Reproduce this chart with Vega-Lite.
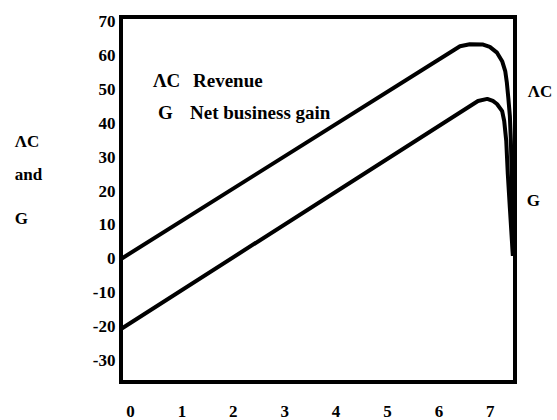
{
  "$schema": "https://vega.github.io/schema/vega-lite/v6.json",
  "autosize": "none",
  "width": 394,
  "height": 365,
  "padding": {"left": 121, "top": 17, "right": 42, "bottom": 38},
  "background": "white",
  "config": {
    "view": {"stroke": "black", "strokeWidth": 4},
    "font": "Liberation Serif"
  },
  "datasets": {
    "curves": [
      {"series": "Revenue", "x": -0.175, "y": 0},
      {"series": "Revenue", "x": 6.42, "y": 62.6},
      {"series": "Revenue", "x": 6.61, "y": 63.2},
      {"series": "Revenue", "x": 6.87, "y": 63.1},
      {"series": "Revenue", "x": 7.00, "y": 62.4},
      {"series": "Revenue", "x": 7.14, "y": 60.7},
      {"series": "Revenue", "x": 7.24, "y": 58.2},
      {"series": "Revenue", "x": 7.30, "y": 55.3},
      {"series": "Revenue", "x": 7.33, "y": 52.1},
      {"series": "Revenue", "x": 7.36, "y": 47.4},
      {"series": "Revenue", "x": 7.39, "y": 42.1},
      {"series": "Revenue", "x": 7.41, "y": 34.7},
      {"series": "Revenue", "x": 7.43, "y": 22.9},
      {"series": "Revenue", "x": 7.45, "y": 0.9},
      {"series": "Net business gain", "x": -0.175, "y": -20.6},
      {"series": "Net business gain", "x": 6.77, "y": 46.5},
      {"series": "Net business gain", "x": 6.95, "y": 47.1},
      {"series": "Net business gain", "x": 7.06, "y": 46.5},
      {"series": "Net business gain", "x": 7.14, "y": 45.6},
      {"series": "Net business gain", "x": 7.24, "y": 43.5},
      {"series": "Net business gain", "x": 7.28, "y": 40.6},
      {"series": "Net business gain", "x": 7.32, "y": 34.7},
      {"series": "Net business gain", "x": 7.35, "y": 25.0},
      {"series": "Net business gain", "x": 7.39, "y": 15.0},
      {"series": "Net business gain", "x": 7.43, "y": 5.3},
      {"series": "Net business gain", "x": 7.45, "y": 0.9}
    ],
    "legend": [
      {"label": "ΛC", "x": 0.447, "y": 52.4},
      {"label": "Revenue", "x": 1.226, "y": 52.4},
      {"label": "G", "x": 0.545, "y": 43.0},
      {"label": "Net business gain", "x": 1.167, "y": 43.0}
    ],
    "labels": [
      {"label": "ΛC", "x": -2.24, "y": 34.4},
      {"label": "and", "x": -2.24, "y": 24.7},
      {"label": "G", "x": -2.24, "y": 11.8},
      {"label": "ΛC", "x": 7.74, "y": 49.1},
      {"label": "G", "x": 7.72, "y": 17.1}
    ]
  },
  "encoding": {
    "x": {
      "field": "x", "type": "quantitative",
      "scale": {"domain": [-0.175, 7.49], "nice": false, "zero": false},
      "axis": {
        "values": [0, 1, 2, 3, 4, 5, 6, 7], "title": null, "grid": false,
        "domain": false, "ticks": false, "labelPadding": 21,
        "labelFont": "Liberation Serif", "labelFontWeight": "bold",
        "labelFontSize": 17, "labelColor": "black", "labelOverlap": false
      }
    },
    "y": {
      "field": "y", "type": "quantitative",
      "scale": {"domain": [-36.2, 71.2], "nice": false, "zero": false},
      "axis": {
        "values": [-30, -20, -10, 0, 10, 20, 30, 40, 50, 60, 70], "title": null,
        "grid": false, "domain": false, "ticks": false, "labelPadding": 6,
        "labelExpr": "'' + datum.value",
        "labelFont": "Liberation Serif", "labelFontWeight": "bold",
        "labelFontSize": 17, "labelColor": "black", "labelOverlap": false
      }
    }
  },
  "layer": [
    {
      "data": {"name": "curves"},
      "mark": {"type": "line", "interpolate": "linear", "strokeWidth": 4, "strokeJoin": "round", "strokeCap": "butt", "color": "black", "clip": false},
      "encoding": {
        "detail": {"field": "series", "type": "nominal"}
      }
    },
    {
      "data": {"name": "legend"},
      "mark": {"type": "text", "align": "left", "baseline": "middle", "font": "Liberation Serif", "fontWeight": "bold", "fontSize": 19, "color": "black"},
      "encoding": {
        "text": {"field": "label"}
      }
    },
    {
      "data": {"name": "labels"},
      "mark": {"type": "text", "align": "left", "baseline": "middle", "font": "Liberation Serif", "fontWeight": "bold", "fontSize": 17, "color": "black"},
      "encoding": {
        "text": {"field": "label"}
      }
    }
  ]
}
